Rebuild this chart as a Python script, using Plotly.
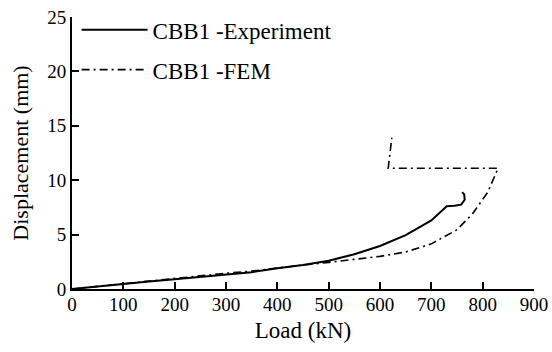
import plotly.graph_objects as go

# Data
exp_load = [0, 50, 100, 150, 200, 250, 300, 350, 400, 450, 500, 550, 600, 650, 700, 720, 730, 745, 758, 765, 764, 760]
exp_disp = [0, 0.25, 0.5, 0.7, 0.9, 1.1, 1.3, 1.55, 1.9, 2.2, 2.6, 3.2, 3.95, 4.95, 6.3, 7.2, 7.6, 7.65, 7.75, 8.2, 8.7, 8.9]

fem_load = [0, 100, 170, 200, 250, 300, 350, 400, 450, 500, 550, 600, 650, 700, 750, 780, 810, 830, 616, 623]
fem_disp = [0, 0.5, 0.8, 1.0, 1.2, 1.45, 1.65, 1.95, 2.2, 2.45, 2.7, 3.0, 3.4, 4.15, 5.45, 6.9, 8.9, 11.1, 11.1, 13.9]

x_ticks = [0, 100, 200, 300, 400, 500, 600, 700, 800, 900]
y_ticks = [0, 5, 10, 15, 20, 25]

FONT = "Liberation Serif"

fig = go.Figure()
fig.add_trace(go.Scatter(x=exp_load, y=exp_disp, mode="lines", name="CBB1 -Experiment",
                         line=dict(color="black", width=2), legendgroup="a"))
fig.add_trace(go.Scatter(x=fem_load, y=fem_disp, mode="lines", name="CBB1 -FEM",
                         line=dict(color="black", width=1.6, dash="8px,4px,2px,4px"), legendgroup="b"))

axis_common = dict(showline=True, linecolor="black", linewidth=2, ticks="inside", ticklen=7,
                   tickwidth=1.5, tickcolor="black", showgrid=False, zeroline=False,
                   tickfont=dict(family=FONT, size=19, color="black"))

fig.update_layout(
    width=552, height=352,
    margin=dict(l=72, r=18, t=17, b=63, autoexpand=False),
    paper_bgcolor="white", plot_bgcolor="white",
    font=dict(family=FONT, color="black"),
    xaxis=dict(range=[0, 900], tickvals=x_ticks, ticklabelstandoff=-3, automargin=False,
               title=dict(text="Load (kN)", font=dict(size=23), standoff=8), **axis_common),
    yaxis=dict(range=[0, 25], tickvals=y_ticks, automargin=False,
               title=dict(text="Displacement (mm)", font=dict(size=22), standoff=13), **axis_common),
    showlegend=True,
    legend=dict(x=0.01, y=1.032, xanchor="left", yanchor="top", font=dict(size=23), itemwidth=66,
                traceorder="grouped", tracegroupgap=7,
                bgcolor="rgba(0,0,0,0)", borderwidth=0),
)

fig.write_html("out.html")
